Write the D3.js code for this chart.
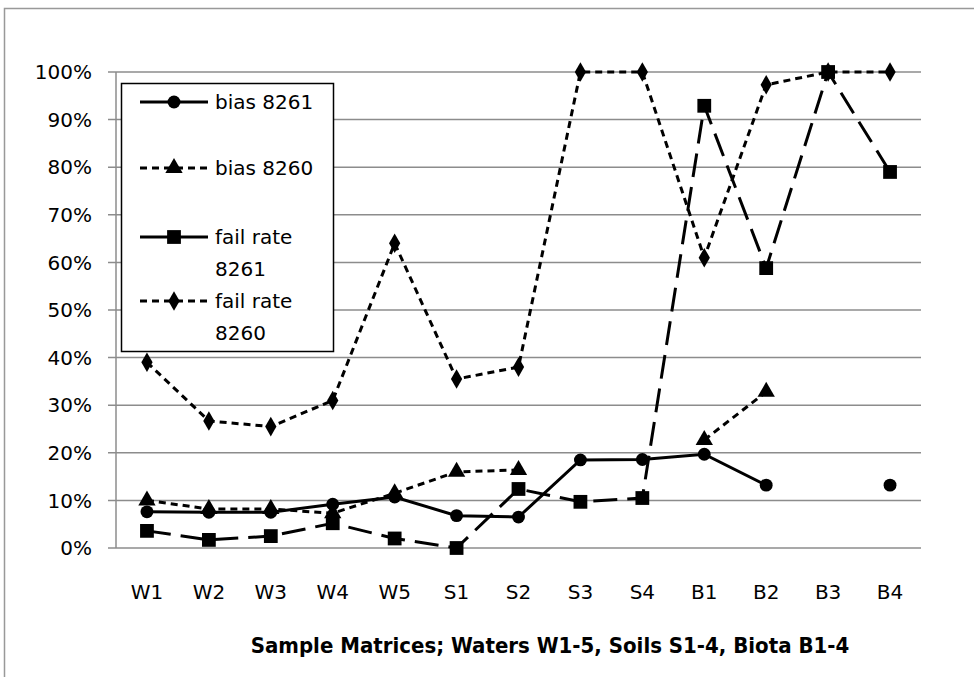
<!DOCTYPE html>
<html><head><meta charset="utf-8">
<script src="https://cdn.jsdelivr.net/npm/d3@7"></script>
<style>body{margin:0;background:#fff}svg{display:block}</style>
</head><body>
<svg id="c" width="974" height="677"></svg>
<script>
const categories = ["W1","W2","W3","W4","W5","S1","S2","S3","S4","B1","B2","B3","B4"];
const bias8261 = [7.6,7.5,7.5,9.2,10.7,6.8,6.5,18.5,18.6,19.7,13.2,null,13.2];
const bias8260 = [10,8.2,8.2,7.3,11.5,16,16.4,null,null,22.7,32.8,null,null];
const fail8261 = [3.6,1.7,2.5,5.2,2,0,12.4,9.7,10.5,92.9,58.8,100,79];
const fail8260 = [39,26.7,25.5,31,64,35.5,38,100,100,61,97.3,100,100];
const yTicks = [0,10,20,30,40,50,60,70,80,90,100];
const xTitle = "Sample Matrices;  Waters W1-5, Soils  S1-4, Biota B1-4";

const series = [
  {name:["bias 8261"], values:bias8261, dash:null, legDash:null, sym:d3.symbolCircle, size:130},
  {name:["bias 8260"], values:bias8260, dash:"7,5", legDash:"7,5", sym:d3.symbolTriangle, size:130},
  {name:["fail rate","8261"], values:fail8261, dash:"24,10", legDash:null, sym:d3.symbolSquare, size:190},
  {name:["fail rate","8260"], values:fail8260, dash:"7,5", legDash:"7,5", sym:d3.symbolDiamond, size:110}
];

const svg = d3.select("#c");
const font = "'DejaVu Sans',sans-serif";
svg.append("rect").attr("x",4.5).attr("y",8.5).attr("width",1000).attr("height",700)
  .attr("fill","#fff").attr("stroke","#999").attr("stroke-width",1.5);

const L=116, R=921, T=72, B=548;
const x = d3.scalePoint().domain(categories).range([L,R]).padding(0.5);
const y = d3.scaleLinear().domain([0,100]).range([B,T]);

svg.append("g").selectAll("line").data(yTicks).join("line")
  .attr("x1",L-8).attr("x2",R).attr("y1",d=>y(d)).attr("y2",d=>y(d))
  .attr("stroke","#8c8c8c").attr("stroke-width",1.5);
svg.append("line").attr("x1",L).attr("x2",L).attr("y1",T).attr("y2",B)
  .attr("stroke","#8c8c8c").attr("stroke-width",1.5);

svg.append("g").selectAll("text").data(yTicks).join("text")
  .attr("x",92).attr("y",d=>y(d)).attr("dy","0.36em").attr("text-anchor","end")
  .attr("font-family",font).attr("font-size",20).attr("fill","#000")
  .text(d=>d+"%");
svg.append("g").selectAll("text").data(categories).join("text")
  .attr("x",d=>x(d)).attr("y",592).attr("dy","0.36em").attr("text-anchor","middle")
  .attr("font-family",font).attr("font-size",20).attr("fill","#000").text(d=>d);
const tt = svg.append("text").attr("x",550).attr("y",645).attr("dy","0.36em").attr("text-anchor","middle")
  .attr("font-family","'DejaVu Sans Condensed','DejaVu Sans',sans-serif").attr("font-weight","bold").attr("font-size",19)
  .attr("fill","#000").text(xTitle);
const w = tt.node().getComputedTextLength();
tt.attr("font-size", Math.min(22, 19*614/w));

const line = d3.line().defined(d=>d.v!=null).x(d=>x(d.c)).y(d=>y(d.v));
series.forEach(s=>{
  const pts = categories.map((c,i)=>({c, v:s.values[i]}));
  svg.append("path").datum(pts).attr("d",line).attr("fill","none")
    .attr("stroke","#000").attr("stroke-width",3).attr("stroke-dasharray",s.dash);
  svg.append("g").selectAll("path").data(pts.filter(p=>p.v!=null)).join("path")
    .attr("transform",p=>`translate(${x(p.c)},${y(p.v)})`)
    .attr("d",d3.symbol().type(s.sym).size(s.size)).attr("fill","#000");
});

const lg = svg.append("g");
lg.append("rect").attr("x",121.5).attr("y",83.5).attr("width",212).attr("height",268)
  .attr("fill","#fff").attr("stroke","#000").attr("stroke-width",1.5);
const rows = [102, 168, 237, 301];
series.forEach((s,i)=>{
  const yy = rows[i];
  lg.append("line").attr("x1",140).attr("x2",208).attr("y1",yy).attr("y2",yy)
    .attr("stroke","#000").attr("stroke-width",3).attr("stroke-dasharray",s.legDash);
  lg.append("path").attr("transform",`translate(174,${yy})`)
    .attr("d",d3.symbol().type(s.sym).size(s.size)).attr("fill","#000");
  s.name.forEach((t,j)=>{
    lg.append("text").attr("x",215).attr("y",yy+j*32).attr("dy","0.36em")
      .attr("font-family",font).attr("font-size",20).attr("fill","#000").text(t);
  });
});
</script>
</body></html>
